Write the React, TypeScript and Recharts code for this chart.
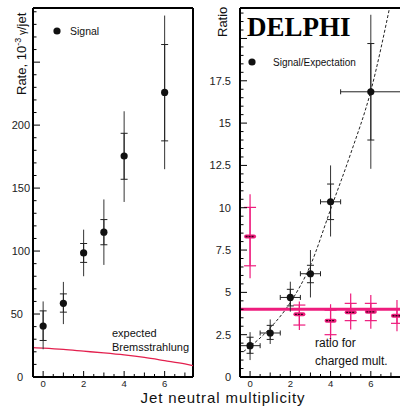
import { ComposedChart, ErrorBar, Line, ReferenceLine, Scatter, XAxis, YAxis } from "recharts";

// left panel: photon rate per jet
const multiplicity = [0, 1, 2, 3, 4, 6];
const rate = [40.5, 58.5, 98.5, 115, 175.5, 226];
const rateStatLow = [29, 51.5, 91, 105, 157, 187.5];
const rateStatHigh = [52.5, 66, 106, 125, 193.5, 264];
const rateTotLow = [22, 42, 80, 89, 139, 165];
const rateTotHigh = [60, 75.5, 117, 141, 211, 287];

const bremsX = [-0.5, 0, 1, 2, 3, 4, 5, 6, 7, 7.4];
const bremsRate = [23.3, 22.9, 21.9, 20.5, 19.1, 17.5, 15.5, 13, 10.4, 9];

// right panel: signal / expectation
const ratio = [1.85, 2.6, 4.7, 6.1, 10.35, 16.85];
const binLow = [-0.5, 0.5, 1.5, 2.5, 3.5, 4.5];
const binHigh = [0.5, 1.5, 2.5, 3.5, 4.5, 7.5];
const ratioStatLow = [1.4, 2.22, 4.2, 5.57, 9.3, 14.0];
const ratioStatHigh = [2.35, 3.05, 5.18, 6.6, 11.4, 19.7];
const ratioTotLow = [1.0, 1.95, 3.86, 4.7, 8.3, 12.3];
const ratioTotHigh = [2.65, 3.4, 5.63, 7.5, 12.5, 21.4];

const fitX = [-0.33, 0, 1, 2, 3, 4, 5, 6, 7];
const fitRatio = [1.5, 1.8, 2.9, 4.4, 6.6, 9.9, 13.2, 16.9, 22.2];

const chargedX = [0, 2.45, 4, 5, 6, 7.3];
const chargedRatio = [8.3, 3.7, 3.33, 3.82, 3.85, 3.62];
const chargedStatLow = [6.57, 3.07, 2.5, 3.33, 3.33, 3.17];
const chargedStatHigh = [10.02, 4.25, 3.95, 4.35, 4.35, 4.04];
const chargedTotLow = [5.83, 2.78, 2.15, 2.8, 2.85, 2.7];
const chargedTotHigh = [10.8, 4.46, 4.3, 4.94, 4.85, 4.55];
const chargedLevel = 4;

const xTicksLeft = [-0.5, 0, 0.5, 1, 1.5, 2, 2.5, 3, 3.5, 4, 4.5, 5, 5.5, 6, 6.5, 7];
const xTicksRight = [...xTicksLeft, 7.5];
const yTicksLeft = Array.from({ length: 30 }, (_, i) => i * 10);
const yTicksRight = Array.from({ length: 44 }, (_, i) => i * 0.5);

const FONT = "'Liberation Sans', Arial, Helvetica, sans-serif";
const MAGENTA = "#ee1c7d";

const rateRows = multiplicity.map((x, i) => ({
  x,
  y: rate[i],
  stat: [rate[i] - rateStatLow[i], rateStatHigh[i] - rate[i]],
  tot: [rate[i] - rateTotLow[i], rateTotHigh[i] - rate[i]],
}));
const bremsRows = bremsX.map((x, i) => ({ x, y: bremsRate[i] }));

const ratioRows = multiplicity.map((x, i) => ({
  x,
  y: ratio[i],
  bin: [x - binLow[i], binHigh[i] - x],
  stat: [ratio[i] - ratioStatLow[i], ratioStatHigh[i] - ratio[i]],
  tot: [ratio[i] - ratioTotLow[i], ratioTotHigh[i] - ratio[i]],
}));
const fitRows = fitX.map((x, i) => ({ x, y: fitRatio[i] }));
const chargedRows = chargedX.map((x, i) => ({
  x,
  y: chargedRatio[i],
  stat: [chargedRatio[i] - chargedStatLow[i], chargedStatHigh[i] - chargedRatio[i]],
  tot: [chargedRatio[i] - chargedTotLow[i], chargedTotHigh[i] - chargedRatio[i]],
}));

const near = (v: number, step: number) => Math.abs(v / step - Math.round(v / step)) < 1e-6;

function XTick(props: any) {
  const { x, y, payload } = props;
  const v = payload.value;
  const len = near(v, 2) ? 6 : near(v, 1) ? 4.5 : 3;
  return (
    <g>
      <line x1={x} x2={x} y1={y} y2={y - len} stroke="#000" strokeWidth={1} />
      {near(v, 2) && (
        <text x={x} y={y + 10} textAnchor="middle" fontSize={9.5} fontFamily={FONT} fill="#222">
          {v}
        </text>
      )}
    </g>
  );
}

function LeftYTick(props: any) {
  const { x, y, payload } = props;
  const v = payload.value;
  const major = near(v, 50);
  return (
    <g>
      <line x1={x} x2={x + (major ? 7 : 3.5)} y1={y} y2={y} stroke="#000" strokeWidth={1} />
      {major && v <= 200 && (
        <text x={v >= 100 ? 30 : 23} y={y + 4} textAnchor="end" fontSize={11} fontFamily={FONT} fill="#222">
          {v}
        </text>
      )}
    </g>
  );
}

function RightYTick(props: any) {
  const { x, y, payload } = props;
  const v = payload.value;
  const major = near(v, 2.5);
  return (
    <g>
      <line x1={x} x2={x + (major ? 7 : 3.5)} y1={y} y2={y} stroke="#000" strokeWidth={1} />
      {major && v < 20 && (
        <text x={x - 9} y={y + 4} textAnchor="end" fontSize={11} fontFamily={FONT} fill="#222">
          {v}
        </text>
      )}
    </g>
  );
}

const Dot = (p: any) => <circle cx={p.cx} cy={p.cy} r={3.6} fill="#111" />;

const ChargedMark = (p: any) => (
  <g>
    <rect x={p.cx - 6} y={p.cy - 2} width={12} height={4} rx={2} fill={MAGENTA} />
    <line x1={p.cx - 4.5} x2={p.cx + 4.5} y1={p.cy} y2={p.cy} stroke="#3a0018" strokeWidth={1.4} strokeDasharray="2 1" />
  </g>
);

export default function App() {
  return (
    <div style={{ position: "absolute", left: 0, top: 0, width: 400, height: 406, overflow: "hidden", background: "#fff" }}>
      <div style={{ position: "absolute", left: 0, top: 0 }}>
        <ComposedChart width={200} height={406} margin={{ top: 8, right: 7, bottom: 0, left: 0 }}>
          <XAxis
            type="number"
            dataKey="x"
            domain={[-0.5, 7.4]}
            allowDataOverflow
            ticks={xTicksLeft}
            interval={0}
            tick={<XTick />}
            tickSize={0}
            tickMargin={0}
            tickLine={false}
            height={29}
            axisLine={{ stroke: "#000", strokeWidth: 2 }}
          />
          <YAxis
            type="number"
            dataKey="y"
            domain={[0, 293]}
            allowDataOverflow
            ticks={yTicksLeft}
            interval={0}
            tick={<LeftYTick />}
            tickSize={0}
            tickMargin={0}
            tickLine={false}
            width={33}
            axisLine={{ stroke: "#000", strokeWidth: 2 }}
          />
          <ReferenceLine y={293} stroke="#000" strokeWidth={2} />
          <ReferenceLine x={7.4} stroke="#000" strokeWidth={2} />
          <Line
            data={bremsRows}
            dataKey="y"
            type="monotone"
            stroke="#e3204e"
            strokeWidth={1.3}
            dot={false}
            isAnimationActive={false}
          />
          <Scatter data={rateRows} dataKey="y" shape={Dot} isAnimationActive={false}>
            <ErrorBar dataKey="tot" direction="y" width={0} stroke="#333" strokeWidth={1} />
            <ErrorBar dataKey="stat" direction="y" width={3.5} stroke="#222" strokeWidth={1} />
          </Scatter>
        </ComposedChart>
      </div>

      <div style={{ position: "absolute", left: 200, top: 0 }}>
        <ComposedChart width={206} height={406} margin={{ top: 8, right: 5, bottom: 0, left: 0 }}>
          <XAxis
            type="number"
            dataKey="x"
            domain={[-0.5, 7.5]}
            allowDataOverflow
            ticks={xTicksRight}
            interval={0}
            tick={<XTick />}
            tickSize={0}
            tickMargin={0}
            tickLine={false}
            height={29}
            axisLine={{ stroke: "#000", strokeWidth: 2 }}
          />
          <YAxis
            type="number"
            dataKey="y"
            domain={[0, 21.8]}
            allowDataOverflow
            ticks={yTicksRight}
            interval={0}
            tick={<RightYTick />}
            tickSize={0}
            tickMargin={0}
            tickLine={false}
            width={40}
            axisLine={{ stroke: "#000", strokeWidth: 2 }}
          />
          <ReferenceLine y={21.8} stroke="#000" strokeWidth={2} />
          <Line
            data={fitRows}
            dataKey="y"
            type="monotone"
            stroke="#222"
            strokeWidth={1}
            strokeDasharray="3 2"
            dot={false}
            isAnimationActive={false}
          />
          <ReferenceLine y={chargedLevel} stroke={MAGENTA} strokeWidth={3} />
          <Scatter data={chargedRows} dataKey="y" shape={ChargedMark} isAnimationActive={false}>
            <ErrorBar dataKey="tot" direction="y" width={0} stroke={MAGENTA} strokeWidth={1.2} />
            <ErrorBar dataKey="stat" direction="y" width={6} stroke={MAGENTA} strokeWidth={1.2} />
          </Scatter>
          <Scatter data={ratioRows} dataKey="y" shape={Dot} isAnimationActive={false}>
            <ErrorBar dataKey="bin" direction="x" width={2.5} stroke="#222" strokeWidth={1} />
            <ErrorBar dataKey="tot" direction="y" width={0} stroke="#333" strokeWidth={1} />
            <ErrorBar dataKey="stat" direction="y" width={3.5} stroke="#222" strokeWidth={1} />
          </Scatter>
        </ComposedChart>
      </div>

      <svg width={400} height={406} style={{ position: "absolute", left: 0, top: 0, pointerEvents: "none" }}>
        <g fontFamily={FONT} fill="#111">
          <text transform="rotate(-90 26 95)" x={26} y={95} fontSize={13}>
            Rate, 10
            <tspan dy={-5} fontSize={9}>-3</tspan>
            <tspan dy={5} fontSize={10}> γ</tspan>
            <tspan>/jet</tspan>
          </text>
          <text transform="rotate(-90 227 37)" x={227} y={37} fontSize={13}>
            Ratio
          </text>
          <circle cx={57} cy={31} r={3.6} fill="#111" />
          <text x={70} y={35} fontSize={10.5}>Signal</text>
          <circle cx={252} cy={62} r={3.6} fill="#111" />
          <text x={273} y={65.5} fontSize={10}>Signal/Expectation</text>
          <text x={112} y={337} fontSize={11}>expected</text>
          <text x={112} y={351} fontSize={11}>Bremsstrahlung</text>
          <text x={315} y={347} fontSize={12}>ratio for</text>
          <text x={315} y={365} fontSize={12}>charged mult.</text>
          <text x={223} y={402.5} fontSize={15} textAnchor="middle" letterSpacing={0.9}>
            Jet neutral multiplicity
          </text>
        </g>
        <text x={247} y={36} fontSize={27} fontWeight="bold" fontFamily="'Liberation Serif', 'Times New Roman', serif" fill="#000">
          DELPHI
        </text>
      </svg>
    </div>
  );
}
